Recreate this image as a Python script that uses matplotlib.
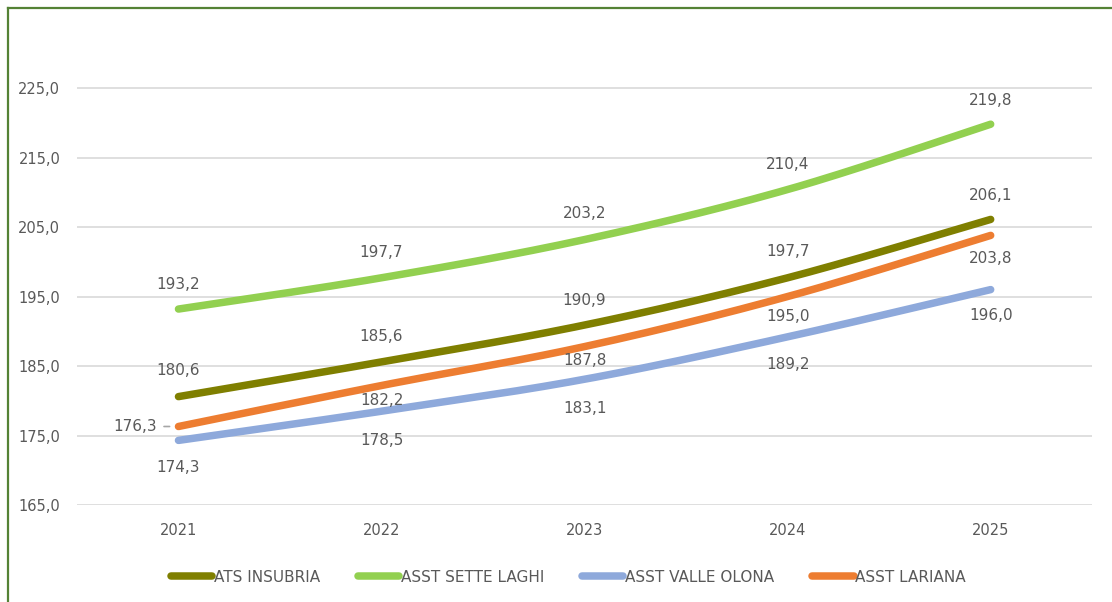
import matplotlib
matplotlib.use("Agg")
import matplotlib.pyplot as plt
from matplotlib.lines import Line2D
import numpy as np

# Data
years = ["2021", "2022", "2023", "2024", "2025"]
ats_insubria = [180.6, 185.6, 190.9, 197.7, 206.1]
sette_laghi = [193.2, 197.7, 203.2, 210.4, 219.8]
valle_olona = [174.3, 178.5, 183.1, 189.2, 196.0]
lariana = [176.3, 182.2, 187.8, 195.0, 203.8]
series_names = ["ATS INSUBRIA", "ASST SETTE LAGHI", "ASST VALLE OLONA", "ASST LARIANA"]
y_ticks = [165, 175, 185, 195, 205, 215, 225]

colors = ["#7F7F00", "#92D050", "#8EA9DB", "#ED7D31"]
grey = "#595959"


def smooth(x, y, n=40):
    # Excel-like smoothed line: cubic bezier through the points
    x = np.asarray(x, float)
    y = np.asarray(y, float)
    px = np.concatenate([[x[0]], x, [x[-1]]])
    py = np.concatenate([[y[0]], y, [y[-1]]])
    xs, ys = [], []
    t = np.linspace(0, 1, n)
    for i in range(1, len(px) - 2):
        p0 = np.array([px[i], py[i]])
        p3 = np.array([px[i + 1], py[i + 1]])
        p1 = p0 + (np.array([px[i + 1], py[i + 1]]) - np.array([px[i - 1], py[i - 1]])) / 6
        p2 = p3 - (np.array([px[i + 2], py[i + 2]]) - np.array([px[i], py[i]])) / 6
        b = ((1 - t) ** 3)[:, None] * p0 + (3 * (1 - t) ** 2 * t)[:, None] * p1 \
            + (3 * (1 - t) * t ** 2)[:, None] * p2 + (t ** 3)[:, None] * p3
        xs.append(b[:, 0])
        ys.append(b[:, 1])
    return np.concatenate(xs), np.concatenate(ys)


fig = plt.figure(figsize=(11.12, 6.02), dpi=100)
ax = fig.add_axes([0.0692, 0.1611, 0.913, 0.7734])

x = np.arange(len(years))
all_series = [ats_insubria, sette_laghi, valle_olona, lariana]
for vals, c in zip(all_series, colors):
    sx, sy = smooth(x, vals)
    ax.plot(sx, sy, color=c, lw=5.4, solid_capstyle="round", zorder=3)

# label offsets in pixels (dx, dy), positive dy = up
offsets = {
    0: [(0, 26), (0, 25), (0, 25), (0, 26), (0, 24)],
    1: [(0, 25), (0, 25), (0, 26), (0, 25), (0, 24)],
    2: [(0, -27), (0, -29), (0, -29), (0, -28), (0, -26)],
    3: [None, (0, -15), (0, -14), (0, -20), (0, -23)],
}
for si, vals in enumerate(all_series):
    for i, v in enumerate(vals):
        txt = f"{v:.1f}".replace(".", ",")
        off = offsets[si][i]
        if off is None:
            ax.annotate(txt, (x[i], v), xytext=(-43 * 0.72, 0), textcoords="offset points",
                        ha="center", va="center", fontsize=11, color=grey, zorder=4)
            ax.annotate("", (x[i] - 0.03, v), xytext=(x[i] - 0.085, v),
                        arrowprops=dict(arrowstyle="-", color="#A6A6A6", lw=1.2))
        else:
            ax.annotate(txt, (x[i], v), xytext=(off[0] * 0.72, off[1] * 0.72),
                        textcoords="offset points", ha="center", va="center",
                        fontsize=11, color=grey, zorder=4)

ax.set_xlim(-0.5, len(years) - 0.5)
ax.set_ylim(165, 232)
ax.set_yticks(y_ticks)
ax.set_yticklabels([f"{t:.1f}".replace(".", ",") for t in y_ticks])
ax.set_xticks(x)
ax.set_xticklabels(years)
ax.tick_params(length=0, labelsize=10.5, labelcolor=grey)
ax.tick_params(axis="y", pad=12)
ax.tick_params(axis="x", pad=13)
ax.yaxis.grid(True, color="#D9D9D9", lw=1.2)
ax.set_axisbelow(True)
for s in ax.spines.values():
    s.set_visible(False)

handles = [Line2D([0], [0], color=c, lw=5.4, solid_capstyle="round") for c in colors]
fig.legend(handles, series_names, loc="center", bbox_to_anchor=(0.511, 0.041), ncol=4,
           frameon=False, fontsize=11, labelcolor=grey, handlelength=2.7,
           handletextpad=0.1, columnspacing=2.5)

# outer green border (top and left visible)
fig.add_artist(Line2D([0.0068, 0.0068], [0, 0.986], color="#548235", lw=1.6))
fig.add_artist(Line2D([0.0068, 1.0], [0.986, 0.986], color="#548235", lw=1.6))

fig.savefig("out.png", dpi=100)
